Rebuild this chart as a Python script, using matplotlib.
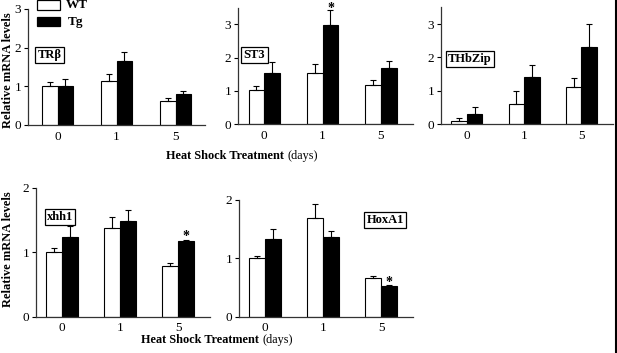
import matplotlib
matplotlib.use("Agg")
import matplotlib.pyplot as plt
from matplotlib.patches import Rectangle
from matplotlib.lines import Line2D

plt.rcParams['font.family'] = ['Liberation Serif', 'DejaVu Serif']

W, H = 617, 353
DPI = 100

days = ["0", "1", "5"]

# Data
trb_wt = [1.00, 1.13, 0.62]
trb_wt_err = [0.12, 0.19, 0.07]
trb_tg = [1.02, 1.66, 0.80]
trb_tg_err = [0.18, 0.24, 0.08]

st3_wt = [1.02, 1.55, 1.19]
st3_wt_err = [0.14, 0.25, 0.14]
st3_tg = [1.53, 2.97, 1.69]
st3_tg_err = [0.34, 0.46, 0.20]

thb_wt = [0.10, 0.59, 1.12]
thb_wt_err = [0.08, 0.41, 0.25]
thb_tg = [0.31, 1.40, 2.31]
thb_tg_err = [0.21, 0.37, 0.68]

xhh_wt = [1.00, 1.37, 0.79]
xhh_wt_err = [0.07, 0.18, 0.04]
xhh_tg = [1.24, 1.48, 1.17]
xhh_tg_err = [0.17, 0.17, 0.02]

hox_wt = [1.01, 1.69, 0.66]
hox_wt_err = [0.03, 0.25, 0.03]
hox_tg = [1.33, 1.36, 0.53]
hox_tg_err = [0.18, 0.11, 0.02]

fig = plt.figure(figsize=(W / DPI, H / DPI), dpi=DPI)


def rect(left, top, width, height):
    return [left / W, 1 - (top + height) / H, width / W, height / H]


def panel(box, wt, wt_err, tg, tg_err, ymax, yticks, xlim=(-0.45, 2.55)):
    ax = fig.add_axes(rect(*box))
    x = list(range(len(days)))
    bw = 0.27
    xw = [v - bw / 2 for v in x]
    xt = [v + bw / 2 for v in x]
    ax.bar(xw, wt, width=bw, color="white", edgecolor="black", linewidth=0.8, zorder=2)
    ax.bar(xt, tg, width=bw, color="black", edgecolor="black", linewidth=0.8, zorder=2)
    ax.errorbar(xw, wt, yerr=[[0] * 3, wt_err], fmt="none", ecolor="black",
                elinewidth=0.8, capsize=2, capthick=0.8, zorder=3)
    ax.errorbar(xt, tg, yerr=[[0] * 3, tg_err], fmt="none", ecolor="black",
                elinewidth=0.8, capsize=2, capthick=0.8, zorder=3)
    ax.set_xlim(*xlim)
    ax.set_ylim(0, ymax)
    ax.set_yticks(yticks)
    ax.set_yticklabels([str(t) for t in yticks])
    ax.set_xticks(x)
    ax.set_xticklabels(days)
    ax.tick_params(axis="y", length=3, width=0.8, labelsize=9.5, pad=2)
    ax.tick_params(axis="x", length=0, labelsize=9.5, pad=4)
    for s in ("top", "right"):
        ax.spines[s].set_visible(False)
    for s in ("left", "bottom"):
        ax.spines[s].set_linewidth(0.9)
        ax.spines[s].set_color("#333333")
    ax.patch.set_alpha(0)
    return ax, xw, xt


ax1, _, _ = panel((28, 9, 177, 116), trb_wt, trb_wt_err, trb_tg, trb_tg_err, 3, [0, 1, 2, 3],
                  xlim=(-0.5, 2.5))
ax2, _, xt2 = panel((238, 7.6, 175, 116.7), st3_wt, st3_wt_err, st3_tg, st3_tg_err, 3.5, [0, 1, 2, 3])
ax3, _, _ = panel((441, 7.4, 172, 116.7), thb_wt, thb_wt_err, thb_tg, thb_tg_err, 3.5, [0, 1, 2, 3])
ax4, _, xt4 = panel((36, 187.7, 174, 129), xhh_wt, xhh_wt_err, xhh_tg, xhh_tg_err, 2, [0, 1, 2])
ax5, _, xt5 = panel((239, 200, 174, 116.7), hox_wt, hox_wt_err, hox_tg, hox_tg_err, 2, [0, 1, 2])

# significance marks
star = dict(ha="center", va="center", fontsize=10, fontweight="bold", clip_on=False)
ax2.text(xt2[1], st3_tg[1] + st3_tg_err[1] + 0.05, "*", **star)
ax4.text(xt4[2], xhh_tg[2] + xhh_tg_err[2] + 0.06, "*", **star)
ax5.text(xt5[2], hox_tg[2] + hox_tg_err[2] + 0.04, "*", **star)


def ftext(x, y, s, **kw):
    fig.text(x / W, 1 - y / H, s, **kw)


# gene labels
box = dict(boxstyle="square,pad=0.18", facecolor="white", edgecolor="black", linewidth=0.9)
ftext(49.5, 55, "TRβ", ha="center", va="center", fontsize=9, fontweight="bold", bbox=box)
ftext(254.5, 55, "ST3", ha="center", va="center", fontsize=9, fontweight="bold", bbox=box)
ftext(470, 59, "THbZip", ha="center", va="center", fontsize=9, fontweight="bold", bbox=box)
ftext(60, 217, "xhh1", ha="center", va="center", fontsize=9, fontweight="bold", bbox=box)
ftext(385, 220, "HoxA1", ha="center", va="center", fontsize=9, fontweight="bold", bbox=box)

# y labels
ftext(8, 70, "Relative mRNA levels", rotation=90, ha="center", va="center",
      fontsize=9, fontweight="bold")
ftext(8, 249, "Relative mRNA levels", rotation=90, ha="center", va="center",
      fontsize=9, fontweight="bold")


# x labels (bold + normal)
def xlabel(cx, cy):
    t1 = fig.text(0, 0, "Heat Shock Treatment ", fontsize=8.8, fontweight="bold")
    t2 = fig.text(0, 0, "(days)", fontsize=8.8)
    fig.canvas.draw()
    r = fig.canvas.get_renderer()
    w1 = t1.get_window_extent(r).width
    w2 = t2.get_window_extent(r).width
    x0 = cx - (w1 + w2) / 2
    t1.set_position((x0 / W, 1 - cy / H))
    t1.set_va("center")
    t2.set_position(((x0 + w1) / W, 1 - cy / H))
    t2.set_va("center")


xlabel(242, 156)
xlabel(217, 340)

# legend
fig.add_artist(Rectangle((37 / W, 1 - 10 / H), 23 / W, 10 / H, transform=fig.transFigure,
                         facecolor="white", edgecolor="black", linewidth=0.9))
fig.add_artist(Rectangle((37 / W, 1 - 26 / H), 23 / W, 9 / H, transform=fig.transFigure,
                         facecolor="black", edgecolor="black", linewidth=0.9))
ftext(66, 5, "WT", ha="left", va="center", fontsize=9.5, fontweight="bold")
ftext(68, 22, "Tg", ha="left", va="center", fontsize=9.5, fontweight="bold")

# right border line
fig.add_artist(Line2D([615.5 / W, 615.5 / W], [0, 1], transform=fig.transFigure,
                      color="black", linewidth=1.5))

fig.savefig("out.png", dpi=DPI)
